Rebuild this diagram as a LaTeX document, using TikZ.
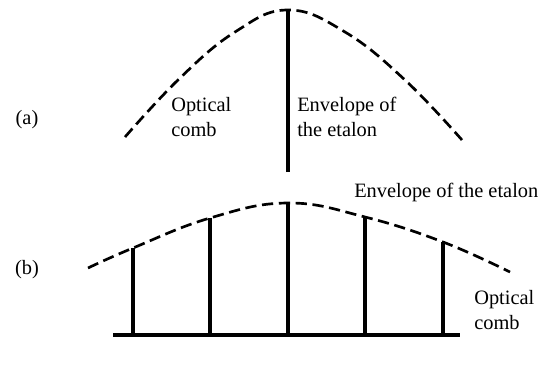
\documentclass[tikz,border=0pt]{standalone}
\usepackage{fontspec}
\setmainfont{Liberation Serif}
\begin{document}
\begin{tikzpicture}[x=0.025cm,y=-0.025cm,
  envelope/.style={line width=1.9pt,dash pattern=on 8pt off 4pt},
  tooth/.style={line width=2.3pt},
  lbl/.style={font=\fontsize{14.5}{17.5}\selectfont,align=left,inner sep=0pt}]
  \useasboundingbox (0,0) rectangle (545,368);
  % (a) single comb line under the etalon envelope
  \node[lbl] (tagA) at (27,120) {(a)};
  \draw[envelope] plot[smooth,tension=0.7] coordinates {(125,137) (180,78) (235,32) (288,10) (345,32) (405,80) (462,140)};
  \coordinate (topA) at (288,10);
  \coordinate (footA) at (288,172);
  \draw[tooth] (footA) -- (topA);
  \node[lbl,anchor=west] (combA) at (171,117) {Optical\\comb};
  \node[lbl,anchor=west] (envA) at (297,117) {Envelope of\\the etalon};
  % (b) comb lines under the envelope
  \node[lbl] (tagB) at (27,270) {(b)};
  \draw[envelope] plot[smooth,tension=0.7] coordinates {(88,268) (133,248) (210,218) (288,203) (365,217) (443,242) (510,272)};
  \coordinate (baseL) at (113,335);
  \coordinate (baseR) at (460,335);
  \draw[tooth] (baseL) -- (baseR);
  \foreach \i/\x/\y in {1/133/248,2/210/218,3/288/203,4/365/217,5/443/242}{
    \coordinate (foot\i) at (\x,335);
    \coordinate (top\i) at (\x,\y);
    \draw[tooth] (foot\i) -- (top\i);
  }
  \node[lbl,anchor=west] (envB) at (354,192) {Envelope of the etalon};
  \node[lbl,anchor=west] (combB) at (474,310) {Optical\\comb};
\end{tikzpicture}
\end{document}
